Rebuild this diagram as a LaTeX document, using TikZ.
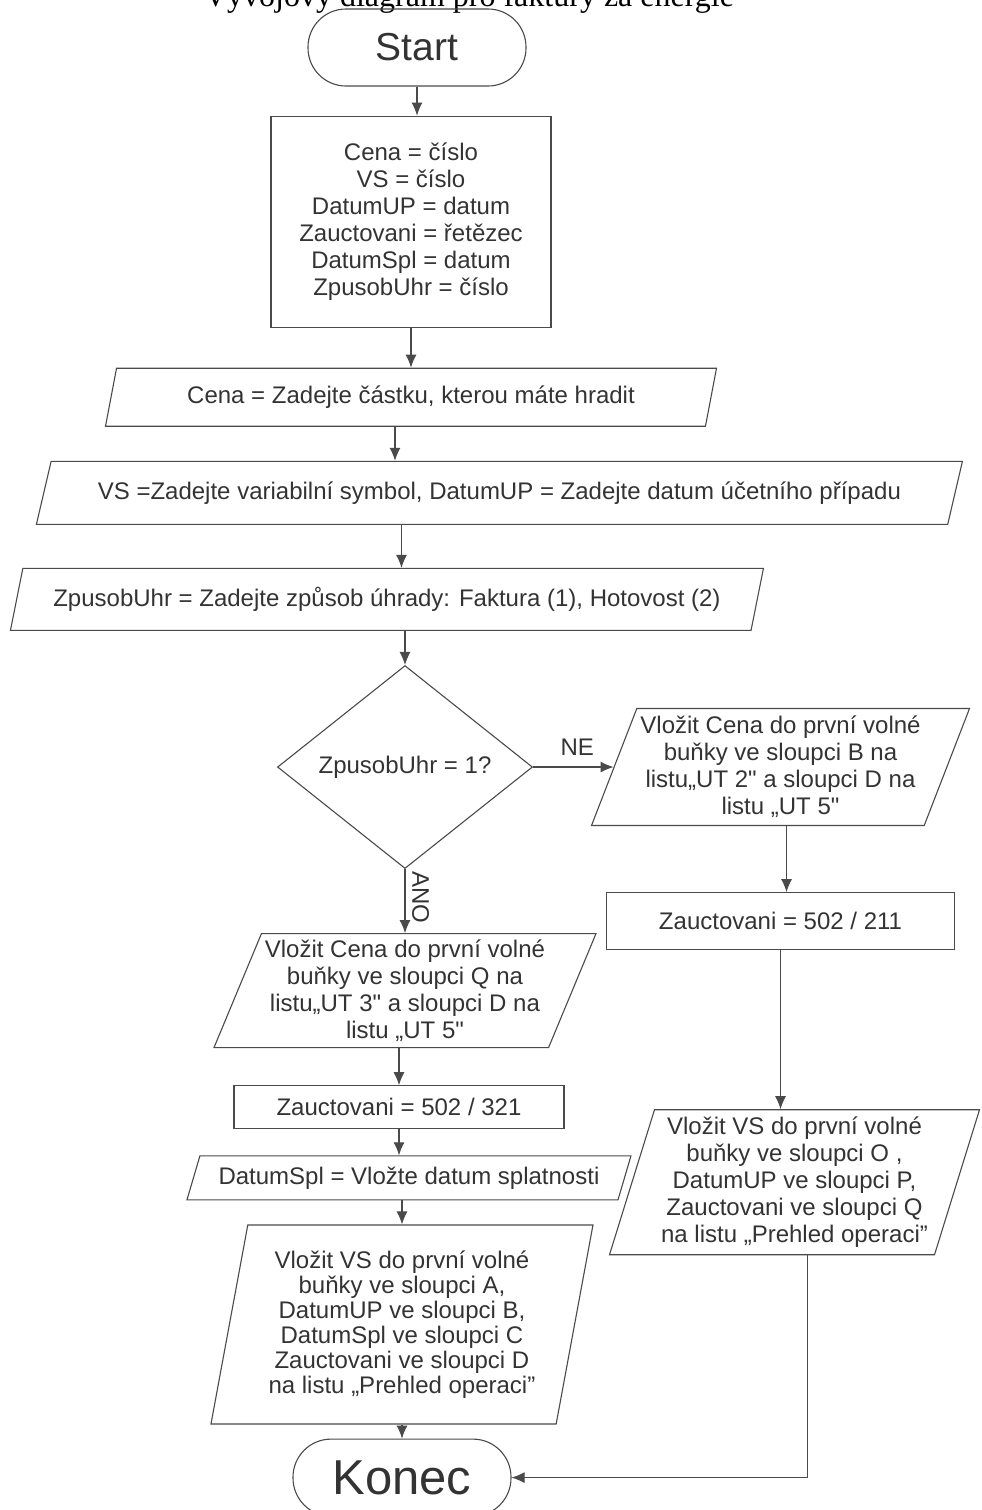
\documentclass[tikz,border=0pt]{standalone}
\usepackage{fontspec}
\setmainfont{Liberation Sans}
\newfontfamily\titlefont{Liberation Serif}
\usetikzlibrary{positioning,shapes.geometric,arrows.meta}
\definecolor{linec}{HTML}{4A4A4A}
\definecolor{txtc}{HTML}{333333}

\begin{document}
\begin{tikzpicture}[%
    >={Latex[length=6.5pt,width=5.5pt]},
    font=\fontsize{12}{13.5}\selectfont, text=txtc,
    term/.style={rectangle, rounded corners=19pt, draw=linec, line width=0.55pt,
      minimum width=109pt, minimum height=38.5pt, inner sep=0pt},
    proc/.style={rectangle, draw=linec, line width=0.55pt, align=center, inner sep=0pt},
    io/.style={trapezium, trapezium left angle=#1, trapezium right angle={180-#1},
      trapezium stretches body, draw=linec, line width=0.55pt, align=center, inner sep=0pt},
    decision/.style={diamond, aspect=1.25, draw=linec, line width=0.55pt, inner sep=0pt},
    flow/.style={->, draw=linec, line width=0.55pt}
  ]
  \useasboundingbox (0,0) rectangle (490.5pt,-755pt);

  \node[anchor=base west, font=\titlefont\fontsize{16}{18}\selectfont, text=black] (title)
    at (98.5pt,-3pt) {Vývojový diagram pro faktury za energie};

  % hlavni vetev
  \node[term, font=\fontsize{19.5}{22}\selectfont] (start) at (208.5pt,-23.75pt) {Start};
  \node[proc, minimum width=140pt, minimum height=105.5pt] (init)
    [node distance=14.5pt, below=of start, xshift=-3pt]
    {Cena = číslo\\VS = číslo\\DatumUP = datum\\Zauctovani = řetězec\\DatumSpl = datum\\ZpusobUhr = číslo};
  \node[io=64, minimum width=305.5pt, minimum height=29pt] (cena)
    [node distance=20pt, below=of init] {Cena = Zadejte částku, kterou máte hradit};
  \node[io=57, minimum width=463pt, minimum height=31.5pt] (vsin)
    [node distance=17pt, below=of cena, xshift=44.25pt]
    {VS =Zadejte variabilní symbol, DatumUP = Zadejte datum účetního případu};
  \node[io=63, minimum width=376.5pt, minimum height=31pt] (uhrin)
    [node distance=21.5pt, below=of vsin, xshift=-56.25pt]
    {ZpusobUhr = Zadejte způsob úhrady: Faktura (1), Hotovost (2)};
  \node[decision, minimum width=127.5pt, minimum height=101.5pt] (choice)
    [node distance=17pt, below=of uhrin, xshift=9pt] {ZpusobUhr = 1?};

  % vetev NE
  \node[io=66, minimum width=189pt, minimum height=58.5pt] (ne)
    [node distance=40.25pt, right=of choice]
    {Vložit Cena do první volné\\buňky ve sloupci B na\\listu„UT 2\textquotedbl{} a sloupci D na\\listu „UT 5\textquotedbl};
  \node[proc, minimum width=174pt, minimum height=28.5pt] (z211)
    [node distance=33pt, below=of ne] {Zauctovani = 502 / 211};
  \node[io=71, minimum width=185pt, minimum height=72.5pt] (vsright)
    [node distance=79.5pt, below=of z211, xshift=7pt]
    {Vložit VS do první volné\\buňky ve sloupci O ,\\DatumUP ve sloupci P,\\Zauctovani ve sloupci Q\\na listu „Prehled operaci”};

  % vetev ANO
  \node[io=65, minimum width=191pt, minimum height=57pt] (ano)
    [node distance=32pt, below=of choice]
    {Vložit Cena do první volné\\buňky ve sloupci Q na\\listu„UT 3\textquotedbl{} a sloupci D na\\listu „UT 5\textquotedbl};
  \node[proc, minimum width=165pt, minimum height=21.5pt] (z321)
    [node distance=18.5pt, below=of ano, xshift=-3pt] {Zauctovani = 502 / 321};
  \node[io=60, minimum width=222pt, minimum height=22pt] (splat)
    [node distance=13pt, below=of z321, xshift=5pt] {DatumSpl = Vložte datum splatnosti};
  \node[io=76, minimum width=191pt, minimum height=99.5pt, font=\fontsize{12}{12.5}\selectfont] (vsleft)
    [node distance=12pt, below=of splat, xshift=-3.5pt]
    {Vložit VS do první volné\\buňky ve sloupci A,\\DatumUP ve sloupci B,\\DatumSpl ve sloupci C\\Zauctovani ve sloupci D\\na listu „Prehled operaci”};
  \node[term, font=\fontsize{24.5}{28}\selectfont] (konec)
    [node distance=7pt, below=of vsleft] {Konec};

  \draw[flow] (start.south) -- (start.south |- init.north);
  \draw[flow] (init.south) -- (init.south |- cena.north);
  \draw[flow] ([xshift=-8pt]cena.south) -- ([xshift=-8pt]cena.south |- vsin.north);
  \draw[flow] ([xshift=-49pt]vsin.south) -- ([xshift=-49pt]vsin.south |- uhrin.north);
  \draw[flow] (uhrin.south -| choice.north) -- (choice.north);
  \draw[flow] (choice.east) -- (ne.west |- choice.east) node[above, pos=0.55, yshift=2pt] {NE};
  \draw[flow] (choice.south) -- (choice.south |- ano.north)
    node[midway, rotate=-90, anchor=south, xshift=-2pt] {ANO};
  \draw[flow] (ano.south -| z321.north) -- (z321.north);
  \draw[flow] (z321.south) -- (z321.south |- splat.north);
  \draw[flow] (splat.south -| vsleft.north) -- (vsleft.north);
  \draw[flow] (vsleft.south) -- (konec.north);
  \draw[flow] ([xshift=3pt]ne.south) -- ([xshift=3pt]ne.south |- z211.north);
  \draw[flow] (z211.south) -- (z211.south |- vsright.north);
  \draw[flow] ([xshift=6.5pt]vsright.south) |- (konec.east);
\end{tikzpicture}
\end{document}
